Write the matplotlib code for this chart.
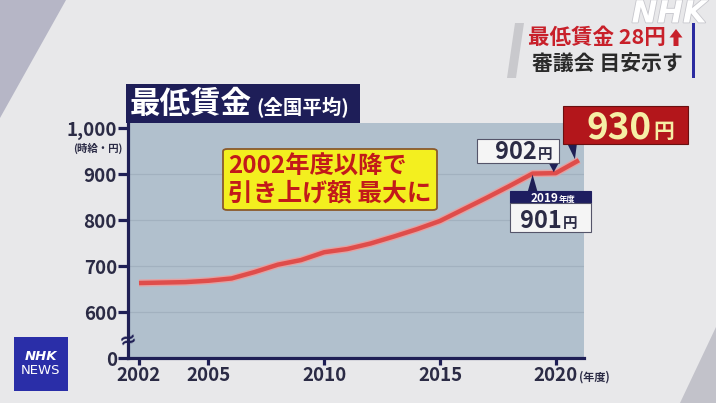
import matplotlib.pyplot as plt
import matplotlib.patheffects as pe
from matplotlib.patches import Rectangle, Polygon, FancyBboxPatch

plt.rcParams['font.family'] = ['Noto Sans CJK JP', 'DejaVu Sans']

# minimum wage, national average (yen per hour)
years = list(range(2002, 2022))
wages = [663, 664, 665, 668, 673, 687, 703, 713, 730, 737,
         749, 764, 780, 798, 823, 848, 874, 901, 902, 930]
xticks = [2002, 2005, 2010, 2015, 2020]
yticks = [500, 600, 700, 800, 900, 1000]   # 500 stands for the broken "0"
ytick_labels = ['0', '600', '700', '800', '900', '1,000']
grid_vals = [600, 700, 800, 900]

W, H = 716, 403
NAVY = '#1f1f55'
TXT = '#2b2b45'


def fx(x):
    return x / W


def fy(y):
    return 1 - y / H


def frect(x0, y0, x1, y1, **kw):
    fig.patches.append(Rectangle((fx(x0), fy(y1)), (x1 - x0) / W, (y1 - y0) / H,
                                 transform=fig.transFigure, **kw))


def fpoly(pts, **kw):
    fig.patches.append(Polygon([(fx(x), fy(y)) for x, y in pts],
                               transform=fig.transFigure, **kw))


def ftext(x, y, s, **kw):
    return fig.text(fx(x), fy(y), s, **kw)


def to_px(x, y):
    dx, dy = ax.transData.transform((x, y))
    return dx, H - dy


fig = plt.figure(figsize=(7.16, 4.03), dpi=100, facecolor='#e8e8ea')

# background decoration
fpoly([(0, 0), (66, 0), (0, 118)], facecolor='#b6b6c6', edgecolor='none', zorder=0)
fpoly([(680, 403), (716, 403), (716, 327)], facecolor='#c2c2ca', edgecolor='none', zorder=0)
fpoly([(515, 23), (524, 23), (516, 78), (507, 78)], facecolor='#c9c9cd', edgecolor='none', zorder=0)

ax = fig.add_axes([fx(128), fy(358), (584 - 128) / W, (358 - 123) / H])
ax.set_facecolor('#b1c0cd')
ax.set_xlim(2001.525, 2021.22)
ax.set_ylim(500, 1011)

for v in grid_vals:
    ax.axhline(v, color='#a2b1bf', lw=0.9, zorder=1)

ax.plot(years, wages, color='#f09a98', lw=5.2, solid_capstyle='butt', zorder=3, alpha=0.8)
ax.plot(years, wages, color='#df4d4b', lw=3.2, solid_capstyle='butt', zorder=4)

for side in ['top', 'right']:
    ax.spines[side].set_visible(False)
for side in ['left', 'bottom']:
    ax.spines[side].set_color(NAVY)
    ax.spines[side].set_linewidth(2.3)

ax.set_yticks(yticks)
ax.set_yticklabels(ytick_labels, fontweight='bold')
ax.set_xticks(xticks)
ax.set_xticklabels([str(x) for x in xticks], fontweight='bold')
ax.tick_params(axis='y', length=7, width=2.3, color=NAVY, pad=1,
               labelsize=13.5, labelcolor=TXT)
ax.tick_params(axis='x', length=5, width=2.3, color=NAVY, pad=1,
               labelsize=13.5, labelcolor=TXT)

# axis break mark
ax.text(0, 538, '≈', transform=ax.get_yaxis_transform(), ha='center', va='center',
        fontsize=15, color=NAVY, family='DejaVu Sans', fontweight='bold',
        rotation=15, zorder=6, clip_on=False)

ftext(98, 148, '(時給・円)', ha='center', va='center', fontsize=7.5, color=TXT,
      fontweight='bold')
ftext(579, 377, '(年度)', ha='left', va='center', fontsize=8, color=TXT, fontweight='bold')

# title bar
frect(126, 84, 360, 123, facecolor='#1e1e58', edgecolor='none', zorder=5)
ftext(130, 104, '最低賃金', ha='left', va='center', fontsize=22, color='white',
      fontweight='bold', zorder=6)
ftext(256, 108, '(全国平均)', ha='left', va='center', fontsize=14, color='white',
      fontweight='bold', zorder=6)

# yellow callout
fig.patches.append(FancyBboxPatch((fx(223), fy(210)), 214 / W, 61 / H,
                                  boxstyle='round,pad=0,rounding_size=0.006',
                                  transform=fig.transFigure, facecolor='#f3ef1f',
                                  edgecolor='#8b5a2b', lw=1.3, zorder=5))
ftext(228, 167, '2002年度以降で', ha='left', va='center', fontsize=17.5,
      color='#c21a1a', fontweight='bold', zorder=6)
ftext(228, 194, '引き上げ額 最大に', ha='left', va='center', fontsize=17.8,
      color='#c21a1a', fontweight='bold', zorder=6)

# value callouts
x19, y19 = to_px(years[-3], wages[-3])
x20, y20 = to_px(years[-2], wages[-2])
x21, y21 = to_px(years[-1], wages[-1])

# 2020: 902
frect(477, 139, 559, 163, facecolor='#f5f5f5', edgecolor='#55556a', lw=0.8, zorder=7)
fpoly([(x20 - 7, 163), (x20 + 3, 163), (x20 - 2, y20 - 1)], facecolor=NAVY,
      edgecolor='none', zorder=6)
ftext(537, 159, str(wages[-2]), ha='right', va='baseline', fontsize=17, color=TXT,
      fontweight='bold', zorder=8)
ftext(538, 159, '円', ha='left', va='baseline', fontsize=10.5, color=TXT,
      fontweight='bold', zorder=8)

# 2021: 930
frect(563, 106, 688, 144, facecolor='#b3161b', edgecolor='#6a1010', lw=0.8, zorder=7)
fpoly([(567, 143), (577, 143), (x21 - 4, y21 - 1)], facecolor=NAVY,
      edgecolor='none', zorder=6)
ftext(652, 138.5, str(wages[-1]), ha='right', va='baseline', fontsize=26.5,
      color='#f6efa6', fontweight='bold', zorder=8)
ftext(653, 138.5, '円', ha='left', va='baseline', fontsize=15, color='#f6efa6',
      fontweight='bold', zorder=8)

# 2019: 901
fpoly([(x19 - 5, 192), (x19 + 5, 192), (x19, y19 + 1)], facecolor=NAVY,
      edgecolor='none', zorder=6)
frect(510, 191, 591, 203, facecolor='#1e1e60', edgecolor='#1e1e60', lw=0.8, zorder=7)
frect(510, 203, 591, 232, facecolor='#f5f5f5', edgecolor='#55556a', lw=0.8, zorder=7)
ftext(558, 201.5, '2019', ha='right', va='baseline', fontsize=8.5, color='white',
      fontweight='bold', zorder=8)
ftext(559, 201.5, '年度', ha='left', va='baseline', fontsize=6, color='white',
      fontweight='bold', zorder=8)
ftext(562, 228, str(wages[-3]), ha='right', va='baseline', fontsize=17, color=TXT,
      fontweight='bold', zorder=8)
ftext(563, 228, '円', ha='left', va='baseline', fontsize=10.5, color=TXT,
      fontweight='bold', zorder=8)

# headline
ftext(528, 37.5, '最低賃金 28円', ha='left', va='center', fontsize=15.5,
      color='#c8202a', fontweight='bold')
fpoly([(676, 29), (669.5, 37.5), (673.5, 37.5), (673.5, 46), (678.5, 46),
       (678.5, 37.5), (682.5, 37.5)], facecolor='#c8202a', edgecolor='none')
ftext(532, 63, '審議会 目安示す', ha='left', va='center', fontsize=15,
      color='#2a2a2a', fontweight='bold')
frect(692, 23, 695, 78, facecolor='#2b2ba0', edgecolor='none')

# logos
ftext(669, 14, 'NHK', ha='center', va='center', fontsize=22, color='white',
      family='DejaVu Sans', fontweight='bold', style='italic',
      path_effects=[pe.withStroke(linewidth=1.2, foreground='#c6c6cc')])
frect(14, 337, 68, 391, facecolor='#2a2ea8', edgecolor='none')
ftext(41, 357, 'NHK', ha='center', va='center', fontsize=9.5, color='white',
      family='DejaVu Sans', fontweight='bold', style='italic')
ftext(41, 371, 'NEWS', ha='center', va='center', fontsize=9.5, color='white',
      family='DejaVu Sans')

fig.savefig('out.png', dpi=100, facecolor=fig.get_facecolor())
